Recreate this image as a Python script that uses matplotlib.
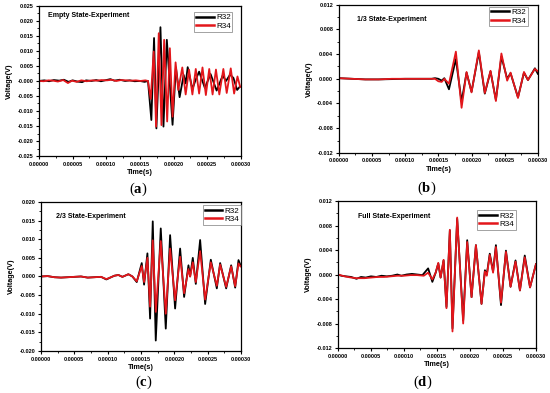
import matplotlib
matplotlib.use("Agg")
import matplotlib.pyplot as plt
from matplotlib.ticker import MultipleLocator, FormatStrFormatter

plt.rcParams["font.family"] = ["Liberation Sans", "DejaVu Sans"]
plt.rcParams["mathtext.fontset"] = "custom"
plt.rcParams["mathtext.rm"] = "Liberation Serif"
plt.rcParams["mathtext.bf"] = "Liberation Serif:bold"

RED = "#e3161b"
US = 1e-6  # times below are read in microseconds

# ---------------------------------------------------------------- data ----
# (a) empty state
a_t_r32 = [0, 8, 15, 22, 30, 37, 44, 50, 57, 64, 70, 78, 85, 92, 100, 106,
           112, 120, 128, 135, 142, 150, 157, 162, 167, 171, 174.5, 180.5,
           185, 190, 198.5, 203.5, 209, 215, 218, 221, 228, 233, 238, 246.5,
           255, 264, 273, 278, 284, 289, 294.5, 298.5]
a_v_r32 = [0.0, 0.0002, -0.0001, 0.0003, 0.0001, 0.0004, -0.0003, 0.0002,
           -0.0002, -0.0004, 0.0002, 0.0, 0.0003, -0.0001, 0.0003, 0.0006,
           0.0001, 0.0004, 0.0, 0.0002, -0.0001, 0.0, -0.0003, 0.0, -0.013,
           0.0143, -0.0158, 0.0179, -0.0152, 0.0137, -0.0146, 0.0045,
           -0.0054, 0.002, -0.0008, 0.0046, -0.0027, 0.0005, 0.0031, -0.0023,
           0.0023, -0.0032, 0.0018, 0.0, 0.0021, 0.001, -0.003, -0.0019]
a_t_r34 = [0, 7, 14, 21, 28, 36, 43, 49, 56, 63, 71, 79, 86, 93, 101, 108,
           115, 122, 130, 137, 144, 151, 158, 162, 166, 170.5, 174, 178, 182,
           186, 190.5, 194.5, 198.5, 203, 207, 213, 218, 223, 228, 233, 238,
           243, 248, 253, 258, 263, 268, 274, 279, 285, 290, 295, 299]
a_v_r34 = [0.0, -0.0001, 0.0002, 0.0001, -0.0002, 0.0003, -0.0007, 0.0001,
           -0.0003, 0.0002, -0.0001, 0.0002, 0.0001, 0.0003, 0.0002, 0.0004,
           0.0, 0.0003, 0.0002, 0.0001, 0.0002, 0.0, 0.0002, 0.0, -0.006,
           0.0098, -0.0152, 0.0159, -0.0147, 0.0137, -0.0135, 0.0109,
           -0.0119, 0.0062, -0.003, 0.0045, -0.0045, 0.0038, -0.0045, 0.004,
           -0.0042, 0.0045, -0.0047, 0.004, -0.0045, 0.0038, -0.0045, 0.004,
           -0.004, 0.0042, -0.0042, 0.0015, -0.002]

# (b) 1/3 state
b_t_r32 = [0, 20, 40, 60, 80, 100, 120, 140, 145, 150, 155, 159, 166, 176.4,
           185, 192.5, 200, 211, 220, 228.6, 236.7, 245, 253.7, 258.8, 270,
           279, 285, 295.5, 300]
b_v_r32 = [0.0001, 0.0, -0.0001, -0.0001, -0.00005, 0.0, 0.0, 0.0, 0.0001,
           0.0, -0.0003, 0.0001, -0.0017, 0.0032, -0.0037, 0.001, -0.0021,
           0.0043, -0.0024, 0.0012, -0.0034, 0.0036, 0.0, 0.0009, -0.003,
           0.001, -0.0002, 0.0017, 0.0008]
b_t_r34 = [0, 20, 40, 60, 80, 100, 120, 140, 145, 150, 155, 159, 166, 176.4,
           185, 192.5, 200, 211, 220, 228.6, 236.7, 245, 253.7, 258.8, 270,
           279, 285, 295.5, 300]
b_v_r34 = [0.0001, 0.0, -0.0001, -0.0001, 0.0, 0.0, 0.0, 0.0, 0.0, -0.0004,
           -0.0005, 0.0, -0.0008, 0.0044, -0.0047, 0.0011, -0.0022, 0.0046,
           -0.0023, 0.0013, -0.0036, 0.0041, -0.0003, 0.001, -0.0031, 0.0011,
           -0.0002, 0.0016, 0.0012]

# (c) 2/3 state
c_t_r32 = [0, 10, 20, 30, 40, 50, 60, 70, 80, 90, 98, 105, 110, 116, 122,
           131, 137, 143.5, 151, 154.5, 159.5, 163.5, 167.5, 172, 179.5, 187,
           193.5, 201, 208.5, 214.5, 221, 223.5, 227.5, 232, 238.5, 246, 254.5,
           263.5, 268.5, 277.5, 285, 291, 296, 299]
c_v_r32 = [0.0, 0.0001, -0.0002, -0.0003, -0.0002, -0.0001, 0.0, -0.0003,
           -0.0002, -0.0001, -0.0008, -0.0002, 0.0002, 0.0004, -0.0001,
           0.0006, 0.0, -0.0015, 0.0036, -0.0022, 0.0062, -0.0113, 0.0148,
           -0.0172, 0.0129, -0.014, 0.0111, -0.0086, 0.0075, -0.0055, 0.003,
           0.0, 0.005, -0.002, 0.0098, -0.0074, 0.0045, -0.0032, 0.0036,
           -0.0032, 0.003, -0.003, 0.0044, 0.003]
c_t_r34 = c_t_r32
c_v_r34 = [0.0, 0.0001, -0.0002, -0.0003, -0.0002, -0.0001, 0.0, -0.0003,
           -0.0002, -0.0001, -0.0007, -0.0002, 0.0002, 0.0004, -0.0001,
           0.0006, 0.0, -0.0013, 0.0028, -0.0015, 0.005, -0.0081, 0.0097,
           -0.0095, 0.0095, -0.010, 0.0075, -0.0064, 0.0053, -0.0045, 0.002,
           0.0, 0.0038, -0.0015, 0.0068, -0.0062, 0.0038, -0.0025, 0.0032,
           -0.0028, 0.0027, -0.0026, 0.0035, 0.0027]

# (d) full state
d_t_r32 = [0, 5, 12, 20, 28, 35, 42, 50, 58, 66, 74, 82, 90, 96, 104, 112,
           120, 128, 136.6, 143, 148, 152, 155.5, 160, 164.4, 169.5, 173.5,
           180.6, 189.7, 195.8, 202.4, 209, 217.5, 222.6, 225.5, 230, 235,
           239.3, 247, 254.5, 261.5, 269, 275.7, 283, 291, 300]
d_v_r32 = [0.0, -0.0002, -0.0003, -0.0004, -0.0007, -0.0004, -0.0005,
           -0.0003, -0.0004, -0.0002, -0.0003, -0.0002, 0.0, -0.0002, 0.0,
           0.0001, 0.0, -0.0001, 0.001, -0.0012, 0.0003, 0.0018, -0.0005,
           0.0023, -0.0053, 0.0072, -0.0088, 0.0091, -0.0075, 0.0056,
           -0.0037, 0.0048, -0.0048, 0.0007, 0.0, 0.0034, 0.0005, 0.0048,
           -0.005, 0.0039, -0.002, 0.0023, -0.0026, 0.0031, -0.0021, 0.0017]
d_t_r34 = [0, 10, 20, 28, 40, 50, 60, 70, 80, 90, 100, 110, 120, 130, 136.6,
           143, 148, 152, 155.5, 160, 164.4, 169.5, 173.5, 180.6, 189.7, 195.8,
           202.4, 209, 217.5, 222.6, 225.5, 230, 235, 239.3, 247, 254.5, 261.5,
           269, 275.7, 283, 291, 300]
d_v_r34 = [0.0, -0.0003, -0.0005, -0.0006, -0.0006, -0.0005, -0.0004,
           -0.0004, -0.0003, -0.0002, -0.0002, -0.0001, -0.0001, -0.0002,
           0.0003, -0.0008, 0.0003, 0.0019, -0.0005, 0.0024, -0.0055, 0.0073,
           -0.0093, 0.0093, -0.008, 0.0053, -0.0037, 0.0048, -0.0048, 0.0005,
           -0.0002, 0.0032, 0.0003, 0.0045, -0.0046, 0.0037, -0.002, 0.0021,
           -0.0026, 0.0028, -0.0021, 0.0017]

PANELS = [
    dict(rect=(0.0709, 0.603, 0.367, 0.382), title="Empty State-Experiment",
         txy=(0.043, 0.933), ylim=0.025, ystep=0.005, leg=(0.958, 0.958),
         cap="a", cxy=(0.251, 0.497),
         r32=(a_t_r32, a_v_r32), r34=(a_t_r34, a_v_r34)),
    dict(rect=(0.616, 0.611, 0.362, 0.377), title="1/3 State-Experiment",
         txy=(0.089, 0.90), ylim=0.012, ystep=0.004, leg=(0.948, 0.985),
         cap="b", cxy=(0.776, 0.499),
         r32=(b_t_r32, b_v_r32), r34=(b_t_r34, b_v_r34)),
    dict(rect=(0.0745, 0.107, 0.364, 0.379), title="2/3 State-Experiment",
         txy=(0.075, 0.90), ylim=0.020, ystep=0.005, leg=(1.0, 0.978),
         cap="c", cxy=(0.262, 0.004),
         r32=(c_t_r32, c_v_r32), r34=(c_t_r34, c_v_r34)),
    dict(rect=(0.6145, 0.1145, 0.36, 0.374), title="Full State-Experiment",
         txy=(0.1025, 0.898), ylim=0.012, ystep=0.004, leg=(0.897, 0.937),
         cap="d", cxy=(0.768, 0.006),
         r32=(d_t_r32, d_v_r32), r34=(d_t_r34, d_v_r34)),
]


def draw_panel(fig, p):
    ax = fig.add_axes(p["rect"])
    t32, v32 = p["r32"]
    t34, v34 = p["r34"]
    ax.plot([t * US for t in t32], v32, color="black", lw=1.3, label="R32",
            solid_joinstyle="round")
    ax.plot([t * US for t in t34], v34, color=RED, lw=1.3, label="R34",
            solid_joinstyle="round")

    ax.set_xlim(0, 0.0003)
    ax.set_ylim(-p["ylim"], p["ylim"])
    ax.xaxis.set_major_locator(MultipleLocator(0.00005))
    ax.xaxis.set_minor_locator(MultipleLocator(0.000025))
    ax.xaxis.set_major_formatter(FormatStrFormatter("%.5f"))
    ax.yaxis.set_major_locator(MultipleLocator(p["ystep"]))
    ax.yaxis.set_minor_locator(MultipleLocator(p["ystep"] / 2))
    ax.yaxis.set_major_formatter(FormatStrFormatter("%.3f"))
    ax.tick_params(which="major", direction="out", length=2.5, width=0.8,
                   labelsize=4, pad=1.5)
    ax.tick_params(which="minor", direction="out", length=1.5, width=0.6)
    for lab in ax.get_xticklabels() + ax.get_yticklabels():
        lab.set_fontweight("bold")
    for s in ax.spines.values():
        s.set_linewidth(0.9)

    ax.set_xlabel("Time(s)", fontsize=5.2, fontweight="bold", labelpad=2)
    ax.set_ylabel("Voltage(V)", fontsize=5.2, fontweight="bold", labelpad=3)
    ax.text(*p["txy"], p["title"], transform=ax.transAxes, fontsize=5,
            fontweight="bold", va="center", ha="left")

    leg = ax.legend(loc="upper right", bbox_to_anchor=p["leg"], fontsize=5.8,
                    frameon=True, fancybox=False, handlelength=2.2,
                    handletextpad=0.3, borderpad=0.2, labelspacing=0.1,
                    borderaxespad=0)
    leg.get_frame().set_edgecolor("#777777")
    leg.get_frame().set_linewidth(0.6)
    for line in leg.get_lines():
        line.set_linewidth(1.8)

    fig.text(*p["cxy"], rf"($\mathbf{{{p['cap']}}}$)", fontsize=10.5,
             ha="center", va="bottom", family="Liberation Serif")
    return ax


fig = plt.figure(figsize=(5.5, 3.93), dpi=100)
for panel in PANELS:
    draw_panel(fig, panel)
fig.savefig("out.png", dpi=100, facecolor="white")
